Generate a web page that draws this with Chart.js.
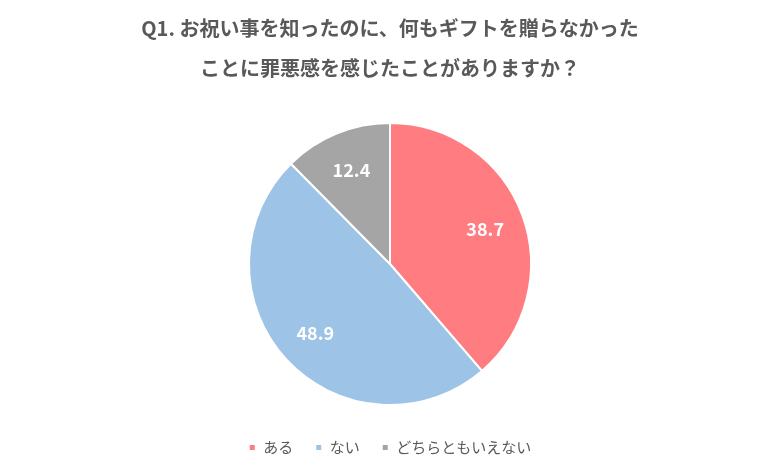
<!DOCTYPE html>
<html><head><meta charset="utf-8">
<script src="https://cdn.jsdelivr.net/npm/chart.js@4"></script>
<style>html,body{margin:0;padding:0;background:#fff}#w{width:780px;height:467px}</style>
</head><body><div id="w"><canvas id="c"></canvas></div>
<script>
const categories = ["ある", "ない", "どちらともいえない"];
const values = [38.7, 48.9, 12.4];
const colors = ["#FF7C80", "#9DC3E6", "#A5A5A5"];
const titleLines = ["Q1. お祝い事を知ったのに、何もギフトを贈らなかった", "ことに罪悪感を感じたことがありますか？"];
const FONT = "'Noto Sans CJK JP','Noto Sans',sans-serif";
const labelPlugin = {
  id: 'lbl',
  afterDatasetsDraw(chart) {
    const ctx = chart.ctx;
    const meta = chart.getDatasetMeta(0);
    ctx.save();
    ctx.fillStyle = '#fff';
    ctx.font = 'bold 18px ' + FONT;
    ctx.textAlign = 'center'; ctx.textBaseline = 'middle';
    meta.data.forEach((a, i) => {
      const mid = (a.startAngle + a.endAngle) / 2;
      const r = a.outerRadius * 0.72;
      ctx.fillText(values[i].toFixed(1), a.x + Math.cos(mid) * r, a.y + Math.sin(mid) * r);
    });
    ctx.restore();
  }
};
new Chart(document.getElementById('c'), {
  type: 'pie',
  data: { labels: categories, datasets: [{ data: values, backgroundColor: colors, borderColor: '#fff', borderWidth: 2, radius: 141 }] },
  options: {
    responsive: true, maintainAspectRatio: false, animation: false,
    layout: { padding: { top: 8, bottom: 2 } },
    plugins: {
      tooltip: { enabled: false },
      title: { display: true, text: titleLines, color: '#595959', font: { family: FONT, size: 20, weight: 'bold', lineHeight: 2 }, padding: { top: 0, bottom: 22 } },
      legend: { position: 'bottom', labels: { color: '#595959', font: { family: FONT, size: 15 }, boxWidth: 7, boxHeight: 7, padding: 22 } }
    }
  },
  plugins: [labelPlugin]
});
</script></body></html>
